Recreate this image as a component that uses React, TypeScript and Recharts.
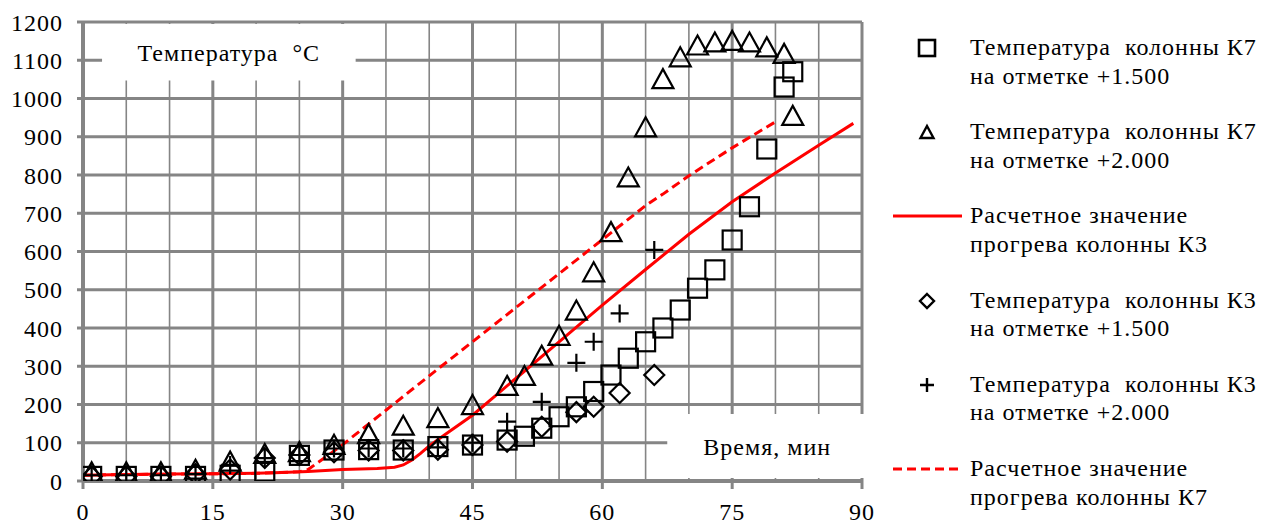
import React from "react";
import {
  ComposedChart,
  Line,
  Scatter,
  XAxis,
  YAxis,
  CartesianGrid,
  ReferenceArea,
} from "recharts";

document.body.style.margin = "0";

// time axis, minutes
const xTicks = [0, 15, 30, 45, 60, 75, 90];
const xMinor = [5, 10, 20, 25, 35, 40, 50, 55, 65, 70, 80, 85];
const yTicks = [0, 100, 200, 300, 400, 500, 600, 700, 800, 900, 1000, 1100, 1200];

// K7 at +1.500 (squares)
const k7lowT = [1, 5, 9, 13, 17, 21, 25, 29, 33, 37, 41, 45, 49, 51, 53, 55, 57, 59, 61, 63, 65, 67, 69, 71, 73, 75, 77, 79, 81, 82];
const k7lowV = [12, 12, 12, 12, 15, 25, 67, 81, 82, 81, 90, 94, 107, 117, 138, 168, 194, 234, 277, 321, 364, 400, 447, 504, 552, 630, 717, 868, 1030, 1070];

// K7 at +2.000 (triangles)
const k7highT = [1, 5, 9, 13, 17, 21, 25, 29, 33, 37, 41, 45, 49, 51, 53, 55, 57, 59, 61, 63, 65, 67, 69, 71, 73, 75, 77, 79, 81, 82];
const k7highV = [20, 20, 20, 27, 48, 68, 73, 92, 120, 142, 162, 196, 246, 272, 325, 377, 443, 543, 648, 791, 922, 1048, 1105, 1136, 1144, 1148, 1144, 1131, 1114, 952];

// K3 at +1.500 (diamonds)
const k3lowT = [1, 5, 9, 13, 17, 21, 25, 29, 33, 37, 41, 45, 49, 53, 57, 59, 62, 66];
const k3lowV = [12, 12, 12, 18, 30, 60, 68, 75, 80, 80, 82, 94, 103, 142, 180, 194, 230, 277];

// K3 at +2.000 (pluses)
const k3highT = [1, 5, 9, 13, 17, 21, 25, 29, 33, 37, 41, 45, 49, 53, 57, 59, 62, 66];
const k3highV = [15, 15, 15, 18, 42, 60, 68, 85, 85, 85, 88, 100, 155, 207, 309, 364, 438, 604];

// calculated heating, K3 (solid) and K7 (dashed)
const calcK3T = [0, 5, 10, 15, 20, 23, 26, 30, 34, 36, 37, 38, 39, 40, 42, 45, 50, 55, 60, 65, 70, 75, 80, 85, 89];
const calcK3V = [15, 17, 18, 19, 20, 22, 25, 30, 33, 36, 42, 55, 72, 92, 124, 172, 268, 364, 460, 553, 645, 730, 805, 878, 935];
const calcK7T = [0, 5, 10, 15, 20, 25, 26, 28, 30, 35, 40, 45, 50, 55, 60, 65, 67, 70, 75, 80];
const calcK7V = [15, 17, 18, 19, 20, 24, 30, 62, 95, 185, 275, 364, 453, 542, 631, 720, 750, 798, 871, 939];

const zip = (t: number[], v: number[]) => t.map((x, i) => ({ t: x, v: v[i] }));

const GRID = "#858585";
const RED = "#ff0000";
const FONT = "'Liberation Serif', 'Times New Roman', serif";
const FS = 24;
const LS = 1;

const Square = (p: any) => (
  <rect x={p.cx - 9.5} y={p.cy - 9.5} width={19} height={19} fill="none" stroke="#000" strokeWidth={2.2} />
);
const Triangle = (p: any) => (
  <polygon
    points={`${p.cx},${p.cy - 11} ${p.cx + 10.5},${p.cy + 8} ${p.cx - 10.5},${p.cy + 8}`}
    fill="none"
    stroke="#000"
    strokeWidth={2.2}
  />
);
const Diamond = (p: any) => (
  <polygon
    points={`${p.cx},${p.cy - 10} ${p.cx + 10},${p.cy} ${p.cx},${p.cy + 10} ${p.cx - 10},${p.cy}`}
    fill="none"
    stroke="#000"
    strokeWidth={2.2}
  />
);
const Plus = (p: any) => (
  <path d={`M${p.cx - 9},${p.cy}H${p.cx + 9}M${p.cx},${p.cy - 9}V${p.cy + 9}`} stroke="#000" strokeWidth={2.2} />
);

const legendItems = [
  { icon: "square", lines: ["Температура  колонны К7", "на отметке +1.500"] },
  { icon: "triangle", lines: ["Температура  колонны К7", "на отметке +2.000"] },
  { icon: "solid", lines: ["Расчетное значение", "прогрева колонны К3"] },
  { icon: "diamond", lines: ["Температура  колонны К3", "на отметке +1.500"] },
  { icon: "plus", lines: ["Температура  колонны К3", "на отметке +2.000"] },
  { icon: "dashed", lines: ["Расчетное значение", "прогрева колонны К7"] },
];

function LegendIcon({ kind }: { kind: string }) {
  const c = 47;
  let el: React.ReactNode = null;
  if (kind === "square") el = <rect x={c - 8} y={7} width={16} height={16} fill="none" stroke="#000" strokeWidth={2.6} />;
  if (kind === "triangle")
    el = <polygon points={`${c},${9} ${c + 6.5},${21} ${c - 6.5},${21}`} fill="none" stroke="#000" strokeWidth={2.4} />;
  if (kind === "diamond")
    el = <polygon points={`${c},${8} ${c + 7},${15} ${c},${22} ${c - 7},${15}`} fill="none" stroke="#000" strokeWidth={2.4} />;
  if (kind === "plus") el = <path d={`M${c - 7},15H${c + 7}M${c},8V22`} stroke="#000" strokeWidth={2.4} />;
  if (kind === "solid") el = <line x1={13} x2={82} y1={15} y2={15} stroke={RED} strokeWidth={3} />;
  if (kind === "dashed")
    el = <line x1={13} x2={82} y1={15} y2={15} stroke={RED} strokeWidth={3} strokeDasharray="9 5" />;
  return (
    <svg width={90} height={30} style={{ position: "absolute", left: 0, top: 0 }}>
      {el}
    </svg>
  );
}

function ChartLegend() {
  return (
    <div
      style={{
        position: "absolute",
        left: 880,
        top: 0,
        width: 391,
        height: 524,
        fontFamily: FONT,
        fontSize: FS,
        letterSpacing: LS,
        color: "#000",
      }}
    >
      {legendItems.map((it, i) => (
        <div key={i} style={{ position: "absolute", left: 0, top: 33 + i * 84.2, width: 391 }}>
          <LegendIcon kind={it.icon} />
          <div style={{ position: "absolute", left: 90, top: 0, lineHeight: "28.5px", whiteSpace: "pre" }}>
            {it.lines.map((l, j) => (
              <div key={j}>{l}</div>
            ))}
          </div>
        </div>
      ))}
    </div>
  );
}

const tickStyle = { fill: "#000", fontSize: FS, fontFamily: FONT, letterSpacing: LS };
const labelStyle = { fill: "#000", fontSize: FS, fontFamily: FONT, letterSpacing: LS };

export default function App() {
  return (
    <div style={{ position: "absolute", left: 0, top: 0, width: 1271, height: 524, background: "#fff" }}>
      <ComposedChart width={1271} height={524} margin={{ top: 22, right: 409, bottom: 0, left: 0 }}>
        <CartesianGrid
          verticalValues={xMinor}
          horizontal={false}
          vertical={{ stroke: GRID, strokeWidth: 1.6 }}
          stroke={GRID}
          strokeWidth={1.6}
        />
        <CartesianGrid
          verticalValues={xTicks}
          horizontalValues={yTicks}
          horizontal={{ stroke: GRID, strokeWidth: 3 }}
          vertical={{ stroke: GRID, strokeWidth: 3 }}
          stroke={GRID}
          strokeWidth={3}
        />
        <XAxis
          type="number"
          dataKey="t"
          domain={[0, 90]}
          ticks={xTicks}
          allowDataOverflow
          height={43}
          tick={tickStyle}
          tickSize={8}
          tickMargin={14}
          axisLine={{ stroke: GRID, strokeWidth: 4 }}
          tickLine={{ stroke: GRID, strokeWidth: 3 }}
        />
        <YAxis
          type="number"
          dataKey="v"
          domain={[0, 1200]}
          ticks={yTicks}
          allowDataOverflow
          width={83}
          tick={tickStyle}
          tickSize={6}
          tickMargin={14}
          interval={0}
          axisLine={{ stroke: GRID, strokeWidth: 4 }}
          tickLine={{ stroke: GRID, strokeWidth: 3 }}
        />
        <ReferenceArea
          x1={2.2}
          x2={31.5}
          y1={1047}
          y2={1195}
          fill="#fff"
          fillOpacity={1}
          stroke="none"
          ifOverflow="visible"
          label={{ value: "Температура\u00A0\u00A0°С", position: "center", ...labelStyle }}
        />
        <ReferenceArea
          x1={67.5}
          x2={90.6}
          y1={8}
          y2={175}
          fill="#fff"
          fillOpacity={1}
          stroke="none"
          ifOverflow="visible"
          label={{ value: "Время, мин", position: "center", ...labelStyle }}
        />
        <Line
          data={zip(calcK3T, calcK3V)}
          dataKey="v"
          type="linear"
          stroke={RED}
          strokeWidth={3}
          dot={false}
          activeDot={false}
          isAnimationActive={false}
        />
        <Line
          data={zip(calcK7T, calcK7V)}
          dataKey="v"
          type="linear"
          stroke={RED}
          strokeWidth={3}
          strokeDasharray="9 5"
          dot={false}
          activeDot={false}
          isAnimationActive={false}
        />
        <Scatter data={zip(k7lowT, k7lowV)} dataKey="v" shape={Square} isAnimationActive={false} />
        <Scatter data={zip(k7highT, k7highV)} dataKey="v" shape={Triangle} isAnimationActive={false} />
        <Scatter data={zip(k3lowT, k3lowV)} dataKey="v" shape={Diamond} isAnimationActive={false} />
        <Scatter data={zip(k3highT, k3highV)} dataKey="v" shape={Plus} isAnimationActive={false} />
      </ComposedChart>
      <ChartLegend />
    </div>
  );
}
